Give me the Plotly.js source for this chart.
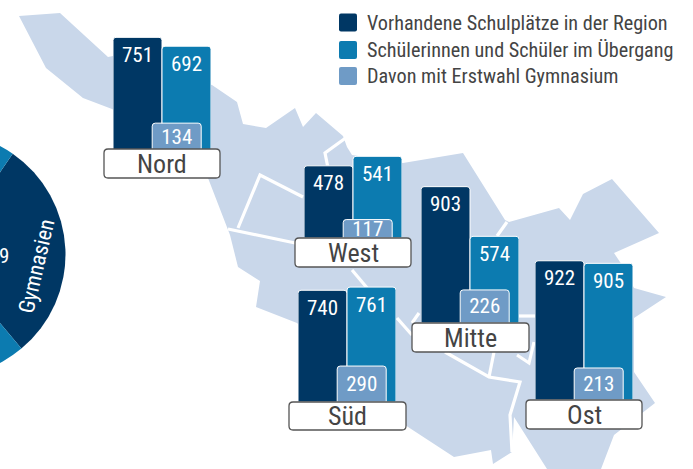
<!DOCTYPE html>
<html><head><meta charset="utf-8">
<script src="https://cdn.plot.ly/plotly-3.0.1.min.js"></script>
<style>html,body{margin:0;padding:0;background:#fff;overflow:hidden;width:693px;height:469px}
#wrap{position:absolute;left:0;top:0;width:693px;height:469px;overflow:hidden}
#plot{position:absolute;left:-200px;top:0;width:893px;height:469px}</style>
</head><body><div id="wrap"><div id="plot"></div></div>
<script>
const regions = ["Nord","West","Süd","Mitte","Ost"];
const seriesNames = ["Vorhandene Schulplätze in der Region","Schülerinnen und Schüler im Übergang","Davon mit Erstwahl Gymnasium"];
const schulplaetze = [751,478,740,903,922];
const schueler = [692,541,761,574,905];
const erstwahl = [134,117,290,226,213];
// the pale bars are not drawn to the same scale in the reference: lengths
const erstwahlBarLength = [179,122,238,219,212];
const pieLabels = ["Gymnasien","Andere Schulformen"];
const pieValues = [105.5,254.5];
const mapX = [19,60,108,113,212,237,243,266,295,303,316,343,347,352,403,463,505,509,559,570,583,612,659,614,622,634,666,634,634,655,614,601,547,514,512,493,491,454,405,297,256,260,238,230,208,150,112,83,46,19];
const mapY = [16,13,57,56,85,102,124,128,108,127,113,136,147,155,163,153,220,222,208,220,194,179,233,253,265,288,297,318,372,403,435,469,469,417,452,464,450,457,425,323,307,281,267,235,178,130,109,98,68,16];
const borderX = [[347,325,328,320],[303,260,238],[228,300],[352,368],[397,412],[419,412],[445,489,520,510,512],[494,489],[517,535],[517,529,534],[507,497]];
const borderY = [[137,153,168,185],[197,175,228],[229,244],[270,289],[318,335],[313,323],[352,377,382,415,452],[352,377],[316,316],[355,363,342],[222,236]];

const NAVY="#003764", TEAL="#0c7bb0", LIGHT="#6f9bc6", MAP="#c9d7ea", INK="#444444";
const FONT="'Roboto Condensed','Roboto',sans-serif";
const OFF=200, W=893, H=469, UNIT=0.151; // px per pupil
// left edge of the first bar, baseline, label box
const frames=[
 {left:113,base:150,box:[104,220,149,178]},
 {left:304,base:238,box:[295,411,238,267]},
 {left:298,base:402,box:[289,406,402,430]},
 {left:421,base:323,box:[412,529,323,352]},
 {left:535,base:400,box:[526,642,400,429]}];

const traces=[], layout={
 width:W,height:H,margin:{l:0,r:0,t:0,b:0},paper_bgcolor:"#fff",plot_bgcolor:"rgba(0,0,0,0)",
 showlegend:false,barmode:"overlay",font:{family:FONT},
 xaxis:{domain:[0,1],range:[-OFF,693],visible:false,fixedrange:true},
 yaxis:{domain:[0,1],range:[469,0],visible:false,fixedrange:true},
 shapes:[],annotations:[]};

traces.push({type:"scatter",mode:"lines",x:mapX,y:mapY,fill:"toself",fillcolor:MAP,line:{width:0},hoverinfo:"skip"});
borderX.forEach((bx,i)=>traces.push({type:"scatter",mode:"lines",x:bx,y:borderY[i],line:{color:"#fff",width:3.2},hoverinfo:"skip"}));

function rounded(b,r){const [x0,x1,y0,y1]=b;
 return `M${x0+r},${y0}L${x1-r},${y0}Q${x1},${y0} ${x1},${y0+r}L${x1},${y1-r}Q${x1},${y1} ${x1-r},${y1}L${x0+r},${y1}Q${x0},${y1} ${x0},${y1-r}L${x0},${y0+r}Q${x0},${y0} ${x0+r},${y0}Z`;}

regions.forEach((name,i)=>{
 const f=frames[i], n=i+2, xa="x"+n, ya="y"+n;
 layout["xaxis"+n]={domain:[(f.left+OFF)/W,(f.left+OFF+98)/W],range:[-0.5,1.5],visible:false,fixedrange:true,anchor:ya};
 layout["yaxis"+n]={domain:[(H-f.base)/H,(H-f.base+1000*UNIT)/H],range:[0,1000],visible:false,fixedrange:true,anchor:xa};
 const common={type:"bar",xaxis:xa,yaxis:ya,width:1,cliponaxis:false,textangle:0,constraintext:"none",hoverinfo:"skip",
   textfont:{family:FONT,size:21,color:"#fff"}};
 traces.push({...common,x:[0],y:[schulplaetze[i]],name:seriesNames[0],marker:{color:NAVY,cornerradius:3,line:{color:"#fff",width:1}}});
 traces.push({...common,x:[1],y:[schueler[i]],name:seriesNames[1],marker:{color:TEAL,cornerradius:3,line:{color:"#fff",width:1}}});
 traces.push({...common,x:[0.8],y:[erstwahlBarLength[i]],text:[String(erstwahl[i])],name:seriesNames[2],
   textposition:"inside",insidetextanchor:"middle",marker:{color:LIGHT,cornerradius:3,line:{color:"#fff",width:1}}});
 [[0,schulplaetze[i]],[1,schueler[i]]].forEach(([xv,v])=>layout.annotations.push({xref:xa,yref:ya,x:xv,y:v,yshift:-17.5,
   text:String(v),showarrow:false,yanchor:"middle",xanchor:"center",font:{family:FONT,size:21,color:"#fff"}}));
 layout.shapes.push({type:"path",xref:"x",yref:"y",path:rounded(f.box,4),fillcolor:"#fff",line:{color:"#555",width:1.3},layer:"above"});
 layout.annotations.push({xref:"x",yref:"y",x:(f.box[0]+f.box[1])/2,y:(f.box[2]+f.box[3])/2,text:name,showarrow:false,
   font:{family:FONT,size:26,color:INK},xanchor:"center",yanchor:"middle"});
});

// pie: centre (-57,254.5), radius 122.5 in window pixels
traces.push({type:"pie",labels:pieLabels,values:pieValues,sort:false,direction:"clockwise",rotation:34.7,
 textinfo:"none",hoverinfo:"skip",marker:{colors:[NAVY,TEAL],line:{width:0}},
 domain:{x:[(-57-122.5+OFF)/W,(-57+122.5+OFF)/W],y:[(H-254.5-122.5)/H,(H-254.5+122.5)/H]}});
layout.annotations.push({xref:"x",yref:"y",x:36,y:266,text:pieLabels[0],textangle:-77,showarrow:false,
 font:{family:FONT,size:22,color:"#fff"}});
layout.annotations.push({xref:"x",yref:"y",x:11,y:256,text:"9",xanchor:"right",showarrow:false,
 font:{family:FONT,size:21,color:"#fff"}});

// legend
[NAVY,TEAL,LIGHT].forEach((c,i)=>{
 const y=[22.5,50,76][i];
 layout.shapes.push({type:"path",xref:"x",yref:"y",path:rounded([339,357,y-9,y+9],2),fillcolor:c,line:{width:0}});
 layout.annotations.push({xref:"x",yref:"y",x:364.5,y:y,text:seriesNames[i],xanchor:"left",yanchor:"middle",showarrow:false,
   font:{family:FONT,size:20.2,color:INK}});
});

Plotly.newPlot("plot",traces,layout,{displayModeBar:false,staticPlot:true});
</script></body></html>
